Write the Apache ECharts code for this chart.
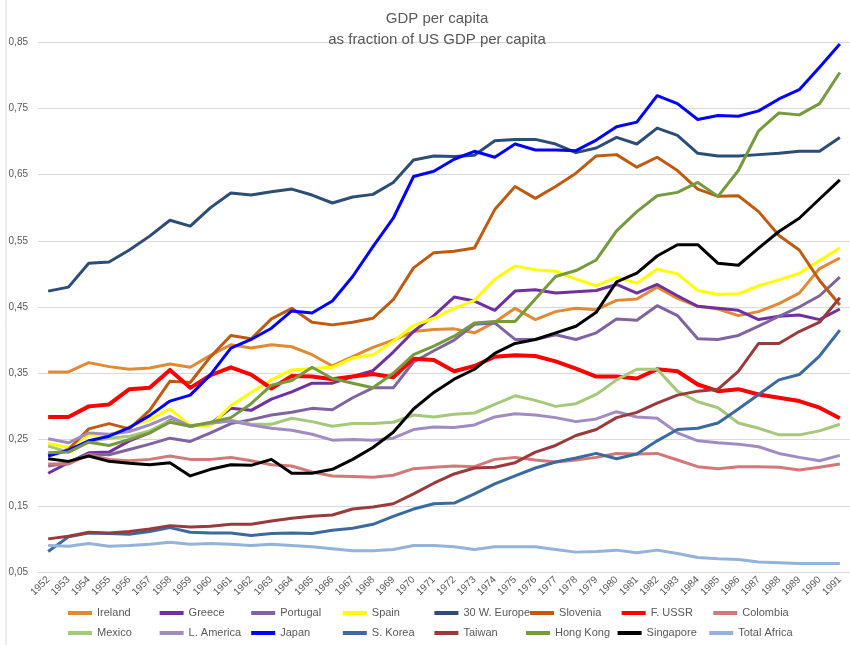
<!DOCTYPE html>
<html>
<head>
<meta charset="utf-8">
<script src="https://cdn.jsdelivr.net/npm/echarts@6/dist/echarts.min.js"></script>
<style>
html,body{margin:0;padding:0;background:#fff;}
#chart{width:850px;height:645px;}
</style>
</head>
<body>
<div id="chart"></div>
<script>
const years = ['1952','1953','1954','1955','1956','1957','1958','1959','1960','1961','1962','1963','1964','1965','1966','1967','1968','1969','1970','1971','1972','1973','1974','1975','1976','1977','1978','1979','1980','1981','1982','1983','1984','1985','1986','1987','1988','1989','1990','1991'];

const ireland = [0.352,0.352,0.366,0.360,0.356,0.358,0.364,0.359,0.377,0.393,0.388,0.393,0.390,0.378,0.361,0.375,0.389,0.400,0.413,0.416,0.417,0.411,0.427,0.448,0.431,0.443,0.448,0.446,0.460,0.462,0.480,0.463,0.451,0.447,0.437,0.443,0.455,0.471,0.508,0.524];
const greece = [0.199,0.215,0.230,0.231,0.248,0.260,0.279,0.270,0.274,0.297,0.294,0.311,0.322,0.335,0.335,0.345,0.354,0.382,0.413,0.437,0.465,0.459,0.445,0.474,0.476,0.471,0.473,0.475,0.484,0.471,0.484,0.467,0.451,0.448,0.445,0.431,0.436,0.438,0.431,0.447];
const portugal = [0.210,0.215,0.228,0.227,0.235,0.243,0.252,0.247,0.260,0.274,0.280,0.287,0.291,0.297,0.295,0.313,0.328,0.328,0.367,0.384,0.400,0.424,0.426,0.401,0.401,0.408,0.401,0.411,0.432,0.430,0.452,0.437,0.402,0.401,0.407,0.421,0.436,0.450,0.467,0.495];
const spain = [0.244,0.238,0.257,0.256,0.269,0.280,0.296,0.271,0.271,0.301,0.321,0.340,0.355,0.357,0.359,0.373,0.378,0.398,0.422,0.433,0.448,0.460,0.492,0.512,0.506,0.504,0.492,0.482,0.495,0.486,0.507,0.500,0.475,0.469,0.470,0.482,0.491,0.501,0.520,0.539];
const westEurope = [0.474,0.480,0.516,0.518,0.536,0.557,0.581,0.572,0.600,0.622,0.619,0.624,0.628,0.619,0.607,0.616,0.620,0.638,0.672,0.678,0.677,0.679,0.701,0.703,0.703,0.696,0.683,0.690,0.706,0.696,0.720,0.709,0.682,0.678,0.678,0.680,0.682,0.685,0.685,0.706];
const slovenia = [0.227,0.235,0.266,0.274,0.266,0.294,0.338,0.336,0.375,0.407,0.402,0.432,0.448,0.427,0.423,0.427,0.433,0.461,0.509,0.532,0.534,0.539,0.597,0.632,0.614,0.632,0.652,0.678,0.680,0.661,0.676,0.656,0.628,0.617,0.618,0.594,0.558,0.536,0.490,0.453];
const ussr = [0.284,0.284,0.300,0.303,0.326,0.328,0.355,0.328,0.347,0.359,0.348,0.327,0.346,0.345,0.341,0.345,0.349,0.344,0.372,0.370,0.353,0.361,0.375,0.377,0.376,0.368,0.357,0.345,0.345,0.342,0.356,0.353,0.333,0.323,0.326,0.318,0.313,0.308,0.298,0.282];
const colombia = [0.213,0.213,0.227,0.220,0.218,0.220,0.225,0.220,0.220,0.223,0.218,0.212,0.210,0.201,0.195,0.194,0.193,0.196,0.206,0.208,0.210,0.209,0.220,0.223,0.219,0.216,0.219,0.223,0.229,0.228,0.229,0.219,0.209,0.206,0.209,0.209,0.208,0.204,0.208,0.213];
const mexico = [0.240,0.231,0.247,0.252,0.255,0.263,0.278,0.271,0.274,0.279,0.273,0.273,0.282,0.277,0.270,0.274,0.274,0.276,0.287,0.284,0.288,0.290,0.303,0.316,0.309,0.300,0.304,0.318,0.340,0.356,0.356,0.323,0.307,0.298,0.275,0.267,0.257,0.257,0.263,0.273];
const latinAmerica = [0.251,0.245,0.260,0.258,0.262,0.272,0.285,0.270,0.275,0.278,0.272,0.267,0.264,0.258,0.249,0.250,0.249,0.252,0.265,0.269,0.268,0.272,0.284,0.289,0.287,0.283,0.277,0.281,0.292,0.284,0.282,0.260,0.248,0.245,0.243,0.239,0.229,0.223,0.218,0.226];
const japan = [0.225,0.234,0.248,0.255,0.268,0.286,0.308,0.317,0.348,0.388,0.401,0.418,0.444,0.441,0.459,0.496,0.541,0.584,0.647,0.655,0.673,0.685,0.676,0.696,0.687,0.687,0.686,0.702,0.722,0.729,0.769,0.757,0.733,0.739,0.738,0.746,0.764,0.778,0.812,0.847];
const southKorea = [0.081,0.103,0.109,0.108,0.107,0.111,0.117,0.110,0.109,0.109,0.105,0.108,0.109,0.108,0.113,0.116,0.122,0.134,0.145,0.153,0.154,0.168,0.183,0.195,0.207,0.216,0.222,0.229,0.221,0.228,0.248,0.265,0.267,0.275,0.296,0.318,0.340,0.348,0.376,0.415];
const taiwan = [0.100,0.104,0.110,0.109,0.111,0.115,0.120,0.118,0.119,0.122,0.122,0.127,0.131,0.134,0.136,0.145,0.148,0.153,0.168,0.184,0.198,0.207,0.208,0.215,0.231,0.241,0.256,0.265,0.283,0.291,0.305,0.317,0.323,0.326,0.353,0.395,0.395,0.413,0.427,0.464];
const hongKong = [0.230,0.231,0.246,0.241,0.250,0.260,0.276,0.270,0.276,0.283,0.304,0.332,0.339,0.359,0.342,0.335,0.328,0.350,0.378,0.391,0.406,0.426,0.428,0.428,0.462,0.496,0.505,0.521,0.565,0.594,0.618,0.623,0.638,0.617,0.656,0.716,0.743,0.740,0.757,0.804];
const singapore = [0.221,0.217,0.225,0.217,0.214,0.212,0.215,0.195,0.205,0.212,0.211,0.220,0.199,0.199,0.205,0.220,0.238,0.261,0.296,0.321,0.341,0.356,0.380,0.395,0.401,0.411,0.421,0.442,0.488,0.501,0.527,0.544,0.544,0.516,0.513,0.539,0.564,0.584,0.613,0.642];
const totalAfrica = [0.090,0.089,0.093,0.089,0.090,0.092,0.095,0.092,0.093,0.092,0.090,0.092,0.090,0.088,0.085,0.082,0.082,0.084,0.090,0.090,0.088,0.084,0.088,0.088,0.088,0.084,0.080,0.081,0.083,0.079,0.083,0.078,0.072,0.070,0.069,0.065,0.064,0.063,0.063,0.063];

const seriesDefs = [
  {name:'Ireland', data:ireland, color:'#E08A35', w:3},
  {name:'Greece', data:greece, color:'#7030A0', w:3},
  {name:'Portugal', data:portugal, color:'#8064A2', w:3},
  {name:'Spain', data:spain, color:'#FFFF00', w:3},
  {name:'30 W. Europe', data:westEurope, color:'#2C4D75', w:3},
  {name:'Slovenia', data:slovenia, color:'#C05A10', w:3},
  {name:'F. USSR', data:ussr, color:'#FF0000', w:4},
  {name:'Colombia', data:colombia, color:'#D27878', w:3},
  {name:'Mexico', data:mexico, color:'#A6C87A', w:3},
  {name:'L. America', data:latinAmerica, color:'#A08CC3', w:3},
  {name:'Japan', data:japan, color:'#0000FF', w:3},
  {name:'S. Korea', data:southKorea, color:'#3A6A9E', w:3},
  {name:'Taiwan', data:taiwan, color:'#9B3A3A', w:3},
  {name:'Hong Kong', data:hongKong, color:'#779A3E', w:3},
  {name:'Singapore', data:singapore, color:'#000000', w:3},
  {name:'Total Africa', data:totalAfrica, color:'#93B3DA', w:3}
];

const FONT = '"Liberation Sans Narrow","Liberation Sans",Arial,sans-serif';
const chart = echarts.init(document.getElementById('chart'), null, {renderer:'canvas'});
chart.setOption({
  animation:false,
  backgroundColor:'#ffffff',
  textStyle:{fontFamily:FONT},
  title:{
    text:'GDP per capita\nas fraction of US GDP per capita',
    left:432, textAlign:'center', top:3,
    textStyle:{fontSize:15, fontWeight:'normal', color:'#595959', lineHeight:21, fontFamily:FONT}
  },
  grid:{left:38, right:0, top:42, bottom:73, containLabel:false},
  legend:{
    left:68, top:603, width:740, padding:0,
    itemWidth:24, itemHeight:4, itemGap:0,
    icon:'rect',
    textStyle:{fontSize:11, color:'#595959', width:62.6, height:20, lineHeight:20, overflow:'none', fontFamily:FONT},
    data: seriesDefs.map(s => s.name)
  },
  xAxis:{
    type:'category', data:years, boundaryGap:true,
    axisLine:{show:true, lineStyle:{color:'#D9D9D9'}},
    axisTick:{show:false},
    axisLabel:{rotate:45, fontSize:10, color:'#595959', margin:6, interval:0, fontFamily:FONT}
  },
  yAxis:{
    type:'value', min:0.05, max:0.85, interval:0.1,
    axisLine:{show:false}, axisTick:{show:false},
    splitLine:{lineStyle:{color:'#D9D9D9', width:1}},
    axisLabel:{fontSize:10, color:'#595959', margin:10, fontFamily:FONT,
      formatter: v => v.toFixed(2).replace('.', ',')}
  },
  graphic:[{type:'line', shape:{x1:6,y1:0,x2:6,y2:645}, style:{stroke:'#D9D9D9', lineWidth:1}, silent:true}],
  series: seriesDefs.map(s => ({
    name:s.name, type:'line', data:s.data, showSymbol:false, symbol:'none',
    lineStyle:{color:s.color, width:s.w, join:'round'},
    itemStyle:{color:s.color},
    emphasis:{disabled:true}
  }))
});
</script>
</body>
</html>
